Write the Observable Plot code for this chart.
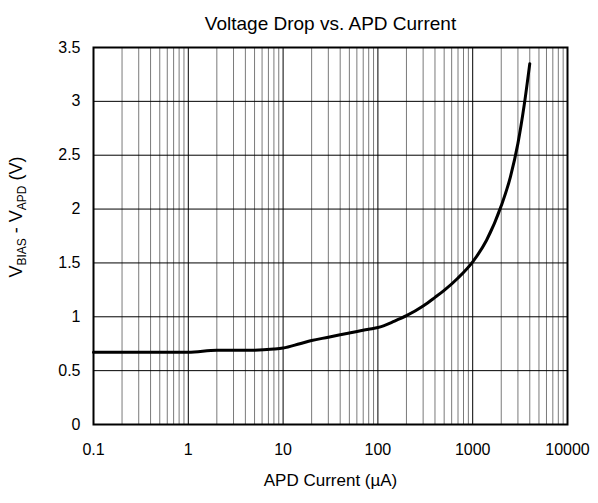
<!DOCTYPE html>
<html><head><meta charset="utf-8">
<script src="https://cdn.jsdelivr.net/npm/d3@7"></script>
<script src="https://cdn.jsdelivr.net/npm/@observablehq/plot@0.6"></script>
<style>
body{margin:0;background:#fff;font-family:"Liberation Sans",Arial,sans-serif}
</style>
</head><body><div id="chart"></div>
<script>
const current = [0.1, 0.2, 0.5, 1, 2, 5, 8, 10, 15, 20, 30, 50, 80, 100, 150, 200, 300, 400, 500, 700, 1000, 1400, 2000, 2500, 3000, 3500, 4000];
const voltage = [0.67, 0.67, 0.67, 0.67, 0.69, 0.69, 0.70, 0.71, 0.75, 0.78, 0.81, 0.85, 0.885, 0.90, 0.96, 1.01, 1.10, 1.18, 1.245, 1.36, 1.51, 1.71, 2.03, 2.30, 2.61, 2.97, 3.35];
const xTicks = [0.1, 1, 10, 100, 1000, 10000];
const xTickLabels = ["0.1", "1", "10", "100", "1000", "10000"];
const yTicks = [0, 0.5, 1, 1.5, 2, 2.5, 3, 3.5];
const yTickLabels = ["0", "0.5", "1", "1.5", "2", "2.5", "3", "3.5"];
const title = "Voltage Drop vs. APD Current";
const xLabel = "APD Current (µA)";

const data = current.map((c, i) => ({c, v: voltage[i]}));
const minorX = [];
for (const d of xTicks.slice(0, -1)) for (let k = 2; k < 10; k++) minorX.push(d * k);

const font = "Liberation Sans, Arial, sans-serif";
const plot = Plot.plot({
  width: 598, height: 503,
  marginLeft: 93, marginRight: 31, marginTop: 47, marginBottom: 79,
  style: {fontFamily: font, fontSize: "16px", color: "#000", background: "#fff"},
  x: {type: "log", domain: [0.1, 10000], label: null},
  y: {domain: [0, 3.5], label: null},
  marks: [
    Plot.ruleX(minorX, {stroke: "#7a7a7a", strokeWidth: 1}),
    Plot.ruleX(xTicks, {stroke: "#000", strokeWidth: 1}),
    Plot.ruleY(yTicks, {stroke: "#000", strokeWidth: 1}),
    Plot.line(data, {x: "c", y: "v", stroke: "#000", strokeWidth: 3, curve: "monotone-x"}),
    Plot.frame({stroke: "#000", strokeWidth: 2}),
    Plot.axisX({ticks: xTicks, tickFormat: d => xTickLabels[xTicks.indexOf(d)], tickSize: 0, tickPadding: 19, fontSize: 16, label: null}),
    Plot.axisY({ticks: yTicks, tickFormat: d => yTickLabels[yTicks.indexOf(d)], tickSize: 0, tickPadding: 13, fontSize: 16, label: null}),
    Plot.text([title], {frameAnchor: "top", dy: -31, fontSize: 19, fill: "#000"}),
    Plot.text([xLabel], {frameAnchor: "bottom", dy: 61, fontSize: 17, fill: "#000"})
  ]
});
document.getElementById("chart").appendChild(plot);

// y-axis label with subscripts
const svg = d3.select(plot);
const yl = svg.append("text")
  .attr("transform", `translate(22,217) rotate(-90)`)
  .attr("text-anchor", "middle")
  .attr("font-family", font)
  .attr("font-size", 18)
  .attr("fill", "#000");
yl.append("tspan").text("V");
yl.append("tspan").attr("font-size", 12).attr("dy", 4).text("BIAS");
yl.append("tspan").attr("dy", -4).text(" - V");
yl.append("tspan").attr("font-size", 12).attr("dy", 4).text("APD");
yl.append("tspan").attr("dy", -4).text(" (V)");
</script>
</body></html>
